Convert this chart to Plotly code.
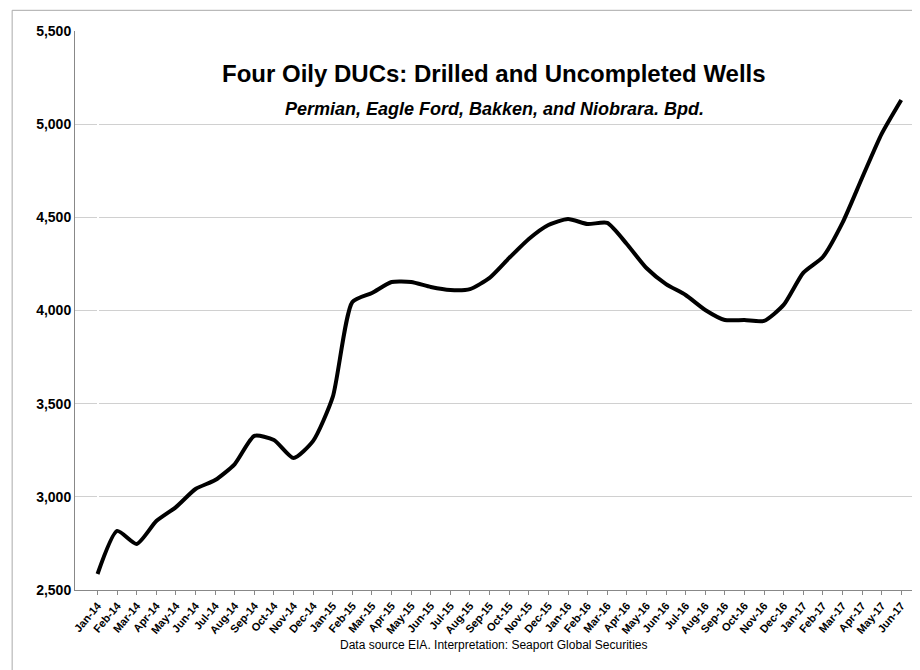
import plotly.graph_objects as go

months = ["Jan","Feb","Mar","Apr","May","Jun","Jul","Aug","Sep","Oct","Nov","Dec"]
categories = [f"{m}-{y}" for y in ["14","15","16"] for m in months] + [f"{m}-17" for m in months[:6]]
values = [2586,2817,2747,2870,2945,3042,3090,3176,3327,3305,3208,3300,
          3536,4046,4094,4153,4153,4126,4110,4115,4175,4282,4384,4459,
          4491,4464,4470,4357,4228,4142,4083,4003,3949,3949,3944,4030,
          4202,4287,4470,4711,4948,5130]
y_ticks = [2500,3000,3500,4000,4500,5000,5500]

fig = go.Figure(go.Scatter(x=list(range(len(categories))), y=values, mode="lines",
                           line=dict(color="black", width=4, shape="spline", smoothing=0.6)))
fig.update_layout(
    width=920, height=670, paper_bgcolor="white", plot_bgcolor="white",
    margin=dict(l=67, r=15, t=23, b=88, autoexpand=False), showlegend=False,
    font=dict(family="Liberation Sans, Arial", color="black"),
    xaxis=dict(tickangle=-50, tickfont=dict(size=11), showgrid=False, showline=True, automargin=False,
               linecolor="#888", ticks="outside", ticklen=4, tickcolor="#888",
               tickvals=list(range(len(categories))), ticktext=[f"<b>{c}</b>" for c in categories],
               range=[-1.15, len(categories)-0.4]),
    yaxis=dict(range=[2500,5500], tickvals=y_ticks, ticktext=[f"<b>{v:,}</b>" for v in y_ticks],
               tickfont=dict(size=14), automargin=False,
               showgrid=True, gridcolor="#d0d0d0", showline=True, linecolor="#888", zeroline=False),
    annotations=[
        dict(text="<b>Four Oily DUCs: Drilled and Uncompleted Wells</b>", x=0.5, y=0.952, xref="paper",
             yref="paper", showarrow=False, font=dict(size=24)),
        dict(text="<b><i>Permian, Eagle Ford, Bakken, and Niobrara. Bpd.</i></b>", x=0.5, y=0.882,
             xref="paper", yref="paper", showarrow=False, font=dict(size=18)),
        dict(text="Data source EIA. Interpretation: Seaport Global Securities", x=0.5, y=-0.115,
             xref="paper", yref="paper", showarrow=False, font=dict(size=12)),
    ],
    shapes=[dict(type="rect", xref="paper", yref="paper", x0=-0.075, x1=1.013, y0=-0.155, y1=1.037,
                 line=dict(color="#aaa", width=1))],
)
fig.write_html("out.html")
